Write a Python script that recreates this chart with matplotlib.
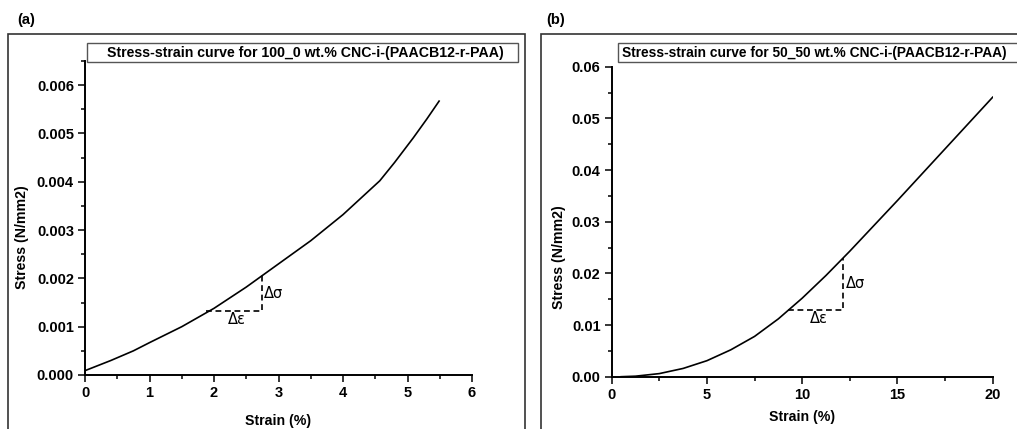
import matplotlib.pyplot as plt
from matplotlib.patches import Rectangle
from matplotlib.ticker import MultipleLocator, FormatStrFormatter

plt.rcParams["font.family"] = ["Liberation Sans", "DejaVu Sans"]

# panel (a): 100_0 wt.%
a_strain = [0.0, 0.4, 0.75, 1.0, 1.5, 2.0, 2.5, 3.0, 3.5, 4.0, 4.57, 4.8, 5.09, 5.3, 5.49]
a_stress = [0.00009, 0.0003, 0.0005, 0.00067, 0.001, 0.00138, 0.00182, 0.0023,
            0.00278, 0.00332, 0.00402, 0.0044, 0.00491, 0.0053, 0.00567]
a_tri_x = [1.88, 2.74]
a_tri_y = [0.00133, 0.00206]

# panel (b): 50_50 wt.%
b_strain = [0.5, 1.25, 2.5, 3.75, 5.0, 6.25, 7.5, 8.75, 10.0, 11.25, 12.5, 13.75,
            15.0, 16.25, 17.5, 18.75, 20.0]
b_stress = [0.0, 0.0001, 0.0006, 0.0016, 0.0031, 0.0052, 0.0078, 0.0112, 0.0152,
            0.0196, 0.0243, 0.0292, 0.0341, 0.0391, 0.0441, 0.0491, 0.0541]
b_tri_x = [9.27, 12.16]
b_tri_y = [0.013, 0.0229]

titles = ["Stress-strain curve for 100_0 wt.% CNC-i-(PAACB12-r-PAA)",
          "Stress-strain curve for 50_50 wt.% CNC-i-(PAACB12-r-PAA)"]

W, H = 1017, 429
fig = plt.figure(figsize=(W / 100, H / 100), dpi=100)


def fx(px):
    return px / W


def fy(py):
    return 1 - py / H


def style(ax):
    for side in ("top", "right"):
        ax.spines[side].set_visible(False)
    for side in ("left", "bottom"):
        ax.spines[side].set_linewidth(1.4)
    ax.tick_params(which="major", direction="out", length=5, width=1.1,
                   labelsize=10.5, pad=3)
    ax.tick_params(which="minor", direction="out", length=2.6, width=1.1)
    for lab in ax.get_xticklabels() + ax.get_yticklabels():
        lab.set_fontweight("bold")
    ax.set_xlabel("Strain (%)", fontsize=10.2, fontweight="bold")
    ax.set_ylabel("Stress (N/mm2)", fontsize=10.2, fontweight="bold")


def triangle(ax, tx, ty, dx_lab, dy_lab):
    ax.plot([tx[0], tx[1], tx[1]], [ty[0], ty[0], ty[1]], color="black",
            linewidth=1.2, linestyle=(0, (3.5, 2.2)))
    ax.text(tx[1] + dx_lab, (ty[0] + ty[1]) / 2, "Δσ", fontsize=10.5,
            family="DejaVu Sans", va="center", ha="left")
    ax.text((tx[0] + tx[1]) / 2 + dx_lab, ty[0] - dy_lab, "Δε", fontsize=10.5,
            family="DejaVu Sans", va="center", ha="center")


# outer frames
fig.patches.append(Rectangle((fx(8), -0.05), fx(525) - fx(8), fy(34) + 0.05,
                             transform=fig.transFigure, fill=False,
                             edgecolor="#333333", linewidth=1.2))
fig.patches.append(Rectangle((fx(541), -0.05), 1.1 - fx(541), fy(34) + 0.05,
                             transform=fig.transFigure, fill=False,
                             edgecolor="#333333", linewidth=1.2))
fig.text(fx(17), fy(20), "(a)", fontsize=10.5, fontweight="bold", va="center")
fig.text(fx(546), fy(20), "(b)", fontsize=10.5, fontweight="bold", va="center")

ax1 = fig.add_axes([fx(85), fy(375), fx(472) - fx(85), fy(61) - fy(375)])
ax1.plot(a_strain, a_stress, color="black", linewidth=1.2)
ax1.set_xlim(0, 6)
ax1.set_ylim(0, 0.0065)
ax1.xaxis.set_major_locator(MultipleLocator(1))
ax1.xaxis.set_minor_locator(MultipleLocator(0.5))
ax1.yaxis.set_major_locator(MultipleLocator(0.001))
ax1.yaxis.set_minor_locator(MultipleLocator(0.0005))
ax1.yaxis.set_major_formatter(FormatStrFormatter("%.3f"))
ax1.set_yticks([0, 0.001, 0.002, 0.003, 0.004, 0.005, 0.006])
triangle(ax1, a_tri_x, a_tri_y, 0.04, 0.00018)
style(ax1)
ax1.yaxis.set_label_coords(-0.145, 0.44)
ax1.xaxis.set_label_coords(0.5, -0.123)

ax2 = fig.add_axes([fx(611.7), fy(376.7), fx(992.7) - fx(611.7), fy(66.7) - fy(376.7)])
ax2.plot(b_strain, b_stress, color="black", linewidth=1.2)
ax2.set_xlim(0, 20)
ax2.set_ylim(0, 0.06)
ax2.xaxis.set_major_locator(MultipleLocator(5))
ax2.xaxis.set_minor_locator(MultipleLocator(2.5))
ax2.yaxis.set_major_locator(MultipleLocator(0.01))
ax2.yaxis.set_minor_locator(MultipleLocator(0.005))
ax2.yaxis.set_major_formatter(FormatStrFormatter("%.2f"))
triangle(ax2, b_tri_x, b_tri_y, 0.15, 0.0018)
style(ax2)
ax2.yaxis.set_label_coords(-0.12, 0.386)
ax2.xaxis.set_label_coords(0.5, -0.108)

# title boxes
for x0, x1, tx0, size, title in ((87, 518, 107, 10.2, titles[0]),
                                 (618, 1030, 622, 9.9, titles[1])):
    fig.patches.append(Rectangle((fx(x0), fy(62)), fx(x1) - fx(x0), fy(43) - fy(62),
                                 transform=fig.transFigure, facecolor="white",
                                 edgecolor="#555555", linewidth=1.0))
    fig.text(fx(tx0), fy(52.5), title, fontsize=size,
             fontweight="bold", va="center", ha="left")

fig.savefig("out.png", dpi=100)
